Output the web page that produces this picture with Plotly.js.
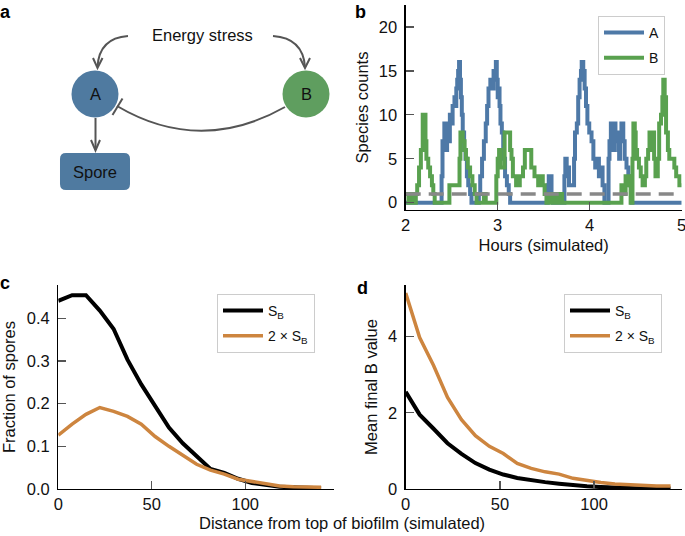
<!DOCTYPE html>
<html>
<head>
<meta charset="utf-8">
<script src="https://cdn.plot.ly/plotly-3.0.1.min.js"></script>
<style>html,body{margin:0;padding:0;background:#fff;}#chart{width:685px;height:536px;}</style>
</head>
<body>
<div id="chart"></div>
<script>
// ---------- Panel b: stochastic simulation (species counts vs hours) ----------
const hoursA = [2.00,2.39,2.40,2.42,2.44,2.45,2.47,2.48,2.50,2.51,2.53,2.54,2.55,2.56,2.57,2.58,2.59,2.60,2.61,2.62,2.635,2.65,2.665,2.68,2.70,2.715,
  2.795,2.81,2.83,2.85,2.87,2.885,2.90,2.92,2.94,2.955,2.97,2.98,2.99,3.00,3.01,3.02,3.03,3.045,3.06,3.08,3.10,3.12,3.135,
  3.545,3.555,3.585,3.60,3.725,3.735,3.75,3.775,3.83,3.84,3.86,3.875,3.89,3.905,3.913,3.93,3.945,3.96,3.975,3.995,4.02,4.04,4.06,4.075,4.10,4.12,4.14,4.16,
  4.205,4.215,4.23,4.245,4.255,4.265,4.28,4.29,4.30,4.31,4.32,4.33,4.345,4.365,4.38,4.40,4.42,4.44,4.455,5.00];
const countsA = [0,3,7,9,6,8,7,10,9,11,12,11,13,14,15,16,14,12,10,8,6,5,3,2,1,0,
  1,3,5,7,9,11,13,14,13,15,14,16,14,12,13,11,9,8,5,3,2,1,0,
  2,3,1,0,3,5,4,2,5,8,9,12,14,15,16,15,13,11,9,8,7,5,4,5,3,4,2,0,
  5,7,9,8,6,9,8,7,8,6,5,7,9,7,5,4,3,2,0,0];

const hoursB = [2.00,2.03,2.06,2.09,2.11,2.125,2.145,2.165,2.185,2.215,2.225,2.245,2.265,2.285,2.30,2.315,2.475,2.585,2.595,2.62,2.64,2.655,2.675,2.70,2.725,2.75,2.77,
  2.85,2.87,2.985,3.00,3.015,3.03,3.075,3.135,3.15,3.165,3.20,3.24,3.275,3.295,3.35,3.365,3.40,3.44,3.475,3.49,3.51,3.53,3.55,3.58,3.61,3.64,3.665,3.70,
  4.345,4.375,4.39,4.425,4.445,4.465,4.475,4.49,4.50,4.515,4.535,4.555,4.575,4.60,4.615,4.635,4.65,4.67,4.685,4.70,4.715,4.74,4.755,4.775,4.79,4.80,4.815,4.83,4.85,4.865,4.92,4.94,4.975,5.00];
const countsB = [1,0,1,0,1,2,4,6,10,7,5,4,3,2,1,0,2,5,8,7,6,5,4,3,2,1,0,
  1,0,3,5,6,4,8,6,5,3,2,3,4,6,6,4,3,2,3,2,1,0,1,0,1,0,1,0,
  2,1,3,2,0,5,9,8,6,5,4,3,2,3,5,6,8,6,8,5,3,5,9,10,12,14,12,8,6,5,4,3,2,2];

const thresholdHours = [2, 5];
const thresholdCounts = [1, 1];

// ---------- Panels c & d: distance from top of biofilm ----------
const distance = [0,7.4,14.8,22.2,29.6,37,44.4,51.8,59.2,66.6,74,81.4,88.8,96.2,103.6,111,118.4,125.8,133.2,140.6];
const sporesSB  = [0.441,0.454,0.454,0.418,0.375,0.303,0.245,0.194,0.144,0.107,0.078,0.047,0.038,0.024,0.014,0.009,0.005,0.004,0.003,0.002];
const spores2SB = [0.126,0.152,0.175,0.191,0.182,0.170,0.152,0.123,0.100,0.078,0.058,0.044,0.035,0.023,0.018,0.014,0.007,0.005,0.004,0.004];
const meanBSB   = [2.55,1.95,1.58,1.20,0.92,0.68,0.51,0.38,0.29,0.23,0.18,0.14,0.10,0.07,0.05,0.03,0.02,0.01,0.01,0.01];
const meanB2SB  = [5.14,3.97,3.24,2.40,1.82,1.40,1.12,0.93,0.67,0.54,0.45,0.39,0.28,0.22,0.17,0.13,0.11,0.09,0.08,0.08];

const seriesNames = ['A', 'B', 'S<sub>B</sub>', '2 × S<sub>B</sub>'];

// ---------- styling ----------
const W = 685, H = 536;
const FONT = 'Liberation Sans, Arial, sans-serif';
const FS = 16.5;
const BLUE = '#4E79A7', GREEN = '#59A14F', ORANGE = '#CD853F', GRAYL = '#555555';
const px = x => x / W;
const py = y => 1 - y / H;
const P = (x, y) => px(x).toFixed(5) + ',' + py(y).toFixed(5);

const traces = [
  {x: hoursA, y: countsA, name: seriesNames[0], legendgroup: 'a', mode: 'lines', line: {color: BLUE, width: 4, shape: 'hv'}, xaxis: 'x', yaxis: 'y', legend: 'legend'},
  {x: hoursB, y: countsB, name: seriesNames[1], legendgroup: 'b', mode: 'lines', line: {color: GREEN, width: 4, shape: 'hv'}, xaxis: 'x', yaxis: 'y', legend: 'legend'},
  {x: thresholdHours, y: thresholdCounts, name: 'threshold', mode: 'lines', showlegend: false, line: {color: '#888888', width: 3.5, dash: '15px,8px'}, xaxis: 'x', yaxis: 'y'},
  {x: distance, y: sporesSB, name: seriesNames[2], legendgroup: 'c1', mode: 'lines', line: {color: '#000', width: 4}, xaxis: 'x2', yaxis: 'y2', legend: 'legend2'},
  {x: distance, y: spores2SB, name: seriesNames[3], legendgroup: 'c2', mode: 'lines', line: {color: ORANGE, width: 3.5}, xaxis: 'x2', yaxis: 'y2', legend: 'legend2'},
  {x: distance, y: meanBSB, name: seriesNames[2], legendgroup: 'd1', mode: 'lines', line: {color: '#000', width: 4}, xaxis: 'x3', yaxis: 'y3', legend: 'legend3'},
  {x: distance, y: meanB2SB, name: seriesNames[3], legendgroup: 'd2', mode: 'lines', line: {color: ORANGE, width: 3.5}, xaxis: 'x3', yaxis: 'y3', legend: 'legend3'}
];

function ax(extra) {
  return Object.assign({
    showline: true, linecolor: '#000', linewidth: 1.3, showgrid: false, zeroline: false,
    ticks: 'inside', ticklen: 8, tickwidth: 1.3, tickcolor: GRAYL, ticklabeloverflow: 'allow',
    tickfont: {family: FONT, size: FS, color: '#111'}, automargin: false, fixedrange: true
  }, extra);
}
const titleFont = {family: FONT, size: FS, color: '#111'};

const legendBase = {bordercolor: '#cccccc', borderwidth: 1, bgcolor: '#fff', xanchor: 'left', yanchor: 'top',
  font: {family: FONT, size: 14, color: '#111'}, tracegroupgap: 4, itemwidth: 40};

const shapeLine = {color: GRAYL, width: 2};
const shapes = [
  // curved arrows from "Energy stress"
  {type: 'path', xref: 'paper', yref: 'paper', path: 'M' + P(128,36) + ' Q' + P(99,38) + ' ' + P(97.5,67), line: shapeLine},
  {type: 'path', xref: 'paper', yref: 'paper', path: 'M' + P(93,58) + ' L' + P(97.5,68) + ' L' + P(102.5,58), line: shapeLine},
  {type: 'path', xref: 'paper', yref: 'paper', path: 'M' + P(273,36) + ' Q' + P(303,38) + ' ' + P(305,67), line: shapeLine},
  {type: 'path', xref: 'paper', yref: 'paper', path: 'M' + P(300,58) + ' L' + P(305,68) + ' L' + P(310,58), line: shapeLine},
  // A -> Spore
  {type: 'path', xref: 'paper', yref: 'paper', path: 'M' + P(95.5,118) + ' L' + P(95.5,150), line: shapeLine},
  {type: 'path', xref: 'paper', yref: 'paper', path: 'M' + P(91,140) + ' L' + P(95.5,150.5) + ' L' + P(100,140), line: shapeLine},
  // B --| A
  {type: 'path', xref: 'paper', yref: 'paper', path: 'M' + P(285,107) + ' Q' + P(200,155) + ' ' + P(117,106), line: shapeLine},
  {type: 'path', xref: 'paper', yref: 'paper', path: 'M' + P(112.5,115) + ' L' + P(122.5,98.5), line: shapeLine},
  // nodes
  {type: 'circle', xref: 'paper', yref: 'paper', x0: px(71.5), x1: px(118.5), y0: py(117.5), y1: py(70.5), fillcolor: '#4F7AA0', line: {width: 0}},
  {type: 'circle', xref: 'paper', yref: 'paper', x0: px(282.5), x1: px(329.5), y0: py(117.5), y1: py(70.5), fillcolor: '#5F9E5F', line: {width: 0}},
  {type: 'path', xref: 'paper', yref: 'paper', fillcolor: '#4F7AA0', line: {width: 0},
   path: 'M' + P(66,153) + ' L' + P(124,153) + ' Q' + P(130,153) + ' ' + P(130,159) + ' L' + P(130,184) + ' Q' + P(130,190) + ' ' + P(124,190) +
         ' L' + P(66,190) + ' Q' + P(60,190) + ' ' + P(60,184) + ' L' + P(60,159) + ' Q' + P(60,153) + ' ' + P(66,153) + ' Z'}
];

function ann(text, x, y, opts) {
  return Object.assign({text: text, x: px(x), y: py(y), xref: 'paper', yref: 'paper', showarrow: false,
    xanchor: 'center', yanchor: 'middle', font: {family: FONT, size: FS, color: '#111'}}, opts || {});
}
const bold = {family: FONT, size: 18, color: '#000', weight: 'bold'};
const annotations = [
  ann('<b>a</b>', 5, 0, {font: bold, yanchor: 'top'}),
  ann('<b>b</b>', 361, 0, {font: bold, yanchor: 'top'}),
  ann('<b>c</b>', 5, 283, {font: bold}),
  ann('<b>d</b>', 362, 288, {font: bold}),
  ann('Energy stress', 202, 35),
  ann('A', 95, 94),
  ann('B', 306, 94),
  ann('Spore', 95, 171.5),
  ann('Distance from top of biofilm (simulated)', 342, 523)
];

const layout = {
  width: W, height: H, margin: {l: 0, r: 0, t: 0, b: 0}, paper_bgcolor: '#fff', plot_bgcolor: 'rgba(0,0,0,0)',
  font: {family: FONT, color: '#111'},
  xaxis: ax({domain: [px(405.7), px(681.7)], range: [2, 5], tickvals: [2, 3, 4, 5], anchor: 'y',
    title: {text: 'Hours (simulated)', font: titleFont, standoff: 6}}),
  yaxis: ax({domain: [py(210), py(5)], range: [-0.83, 22.5], tickvals: [0, 5, 10, 15, 20], anchor: 'x', ticklabelstandoff: 4,
    title: {text: 'Species counts', font: titleFont, standoff: 6}}),
  xaxis2: ax({domain: [px(58.3), px(334)], range: [0, 147.5], tickvals: [0, 50, 100], anchor: 'y2'}),
  yaxis2: ax({domain: [py(489), py(285)], range: [0, 0.478], tickvals: [0, 0.1, 0.2, 0.3, 0.4], tickformat: '.1f', anchor: 'x2', ticklabelstandoff: 4,
    title: {text: 'Fraction of spores', font: titleFont, standoff: 8}}),
  xaxis3: ax({domain: [px(405.7), px(681.7)], range: [0, 146.5], tickvals: [0, 50, 100], anchor: 'y3'}),
  yaxis3: ax({domain: [py(489), py(285)], range: [0, 5.35], tickvals: [0, 2, 4], anchor: 'x3', ticklabelstandoff: 4,
    title: {text: 'Mean final B value', font: titleFont, standoff: 6}}),
  legend: Object.assign({}, legendBase, {x: px(598), y: py(16)}),
  legend2: Object.assign({}, legendBase, {x: px(217), y: py(294)}),
  legend3: Object.assign({}, legendBase, {x: px(564), y: py(294)}),
  shapes: shapes,
  annotations: annotations
};

Plotly.newPlot('chart', traces, layout, {displayModeBar: false, staticPlot: true});
</script>
</body>
</html>
